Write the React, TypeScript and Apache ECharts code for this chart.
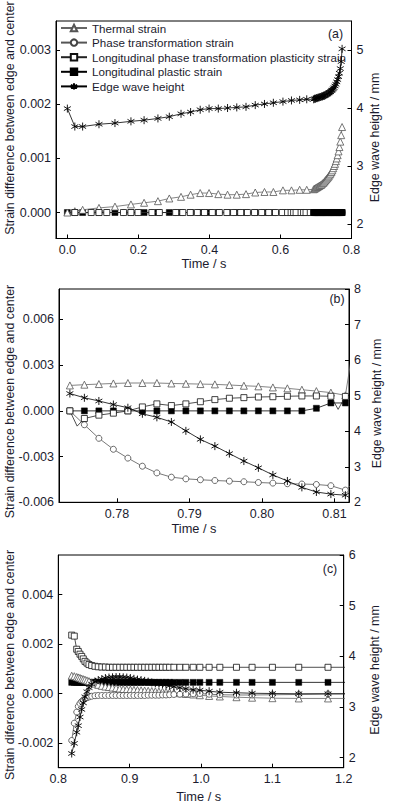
import React, { useEffect, useRef } from 'react';
import * as echarts from 'echarts';

// ---------------- Panel (a) ----------------
const timeA = [0, 0.021, 0.043, 0.089, 0.134, 0.179, 0.216, 0.255, 0.287, 0.32, 0.347, 0.374, 0.399, 0.425, 0.451, 0.477, 0.503, 0.529, 0.555, 0.58, 0.607, 0.631, 0.654, 0.674];
const thermalA = [0, 0.000025, 0.00005, 0.000086, 0.00011, 0.00015, 0.00018, 0.00021, 0.00026, 0.00029, 0.00033, 0.00036, 0.00036, 0.00034, 0.00033, 0.00033, 0.00034, 0.00037, 0.00038, 0.00038, 0.00041, 0.00041, 0.00042, 0.00042];
const waveA = [3.99, 3.68, 3.68, 3.72, 3.74, 3.77, 3.79, 3.82, 3.85, 3.9, 3.93, 3.97, 3.99, 3.99, 4.0, 4.01, 4.02, 4.05, 4.07, 4.09, 4.11, 4.13, 4.14, 4.15];
const plasticA = [0, 0, 0, 0, 0, 0, 0, 0, 0, 0, 0, 0, 0, 0, 0, 0, 0, 0, 0, 0, 0, 0, 0, 0];

const timeADense = [0.6935, 0.696, 0.6985, 0.701, 0.7035, 0.706, 0.7085, 0.711, 0.7135, 0.716, 0.7185, 0.721, 0.7235, 0.726, 0.7285, 0.731, 0.7335, 0.736, 0.7385, 0.741, 0.7435, 0.746, 0.7485, 0.751, 0.7535, 0.756, 0.7585, 0.761, 0.7635, 0.766, 0.7685, 0.771, 0.7735];
const thermalADense = [0.00043, 0.00044, 0.00045, 0.00046, 0.00047, 0.00048, 0.00049, 0.0005, 0.00051, 0.00052, 0.00054, 0.00055, 0.00057, 0.00059, 0.00061, 0.00063, 0.00065, 0.00067, 0.0007, 0.00072, 0.00075, 0.00078, 0.00082, 0.00086, 0.0009, 0.00095, 0.001, 0.00106, 0.00113, 0.00121, 0.00131, 0.00143, 0.00158];
const waveADense = [4.15, 4.16, 4.16, 4.17, 4.17, 4.18, 4.18, 4.19, 4.19, 4.2, 4.2, 4.21, 4.21, 4.22, 4.23, 4.24, 4.25, 4.26, 4.27, 4.28, 4.3, 4.31, 4.33, 4.35, 4.38, 4.41, 4.45, 4.49, 4.54, 4.6, 4.68, 4.8, 5.02];

const timeAZero = [0.021, 0.067, 0.089, 0.111, 0.158, 0.179, 0.199, 0.238, 0.259, 0.305, 0.325, 0.346, 0.366, 0.386, 0.408, 0.428, 0.449, 0.468, 0.488, 0.507, 0.527, 0.547, 0.567, 0.586, 0.605, 0.62, 0.63, 0.637, 0.644, 0.658, 0.665, 0.672, 0.684];
const zeroA = [0, 0, 0, 0, 0, 0, 0, 0, 0, 0, 0, 0, 0, 0, 0, 0, 0, 0, 0, 0, 0, 0, 0, 0, 0, 0, 0, 0, 0, 0, 0, 0, 0];

// ---------------- Panel (b) ----------------
const timeB = [0.7735, 0.7755, 0.7775, 0.7795, 0.7815, 0.7835, 0.7855, 0.7875, 0.7895, 0.7915, 0.7935, 0.7955, 0.7975, 0.7995, 0.8015, 0.8035, 0.8055, 0.8075, 0.8095, 0.8115];
const thermalB = [0.00167, 0.00172, 0.00176, 0.0018, 0.00183, 0.00183, 0.00183, 0.0018, 0.00178, 0.00176, 0.00174, 0.0017, 0.00165, 0.00161, 0.00154, 0.00148, 0.00139, 0.0013, 0.0012, 0.00102];
const phaseB = [0, -0.00091, -0.0018, -0.00252, -0.0031, -0.00363, -0.00407, -0.00435, -0.00446, -0.00452, -0.00457, -0.00461, -0.00465, -0.0047, -0.00474, -0.00478, -0.0048, -0.00483, -0.00491, -0.0052];
const lptpB = [0, -0.0005, -0.00028, -0.00015, 0, 0.00026, 0.00046, 0.00035, 0.00046, 0.0006, 0.00074, 0.00083, 0.00087, 0.00091, 0.00093, 0.00096, 0.00098, 0.00098, 0.00096, 0.00095];
const plasticB = [0, 0, 0, 0, 0, 0, 0, 0, 0, 0, 0, 0, 0, 0, 0, 0, 0, 0.00017, 0.00052, 0.00052];
const waveB = [5.06, 4.94, 4.85, 4.75, 4.66, 4.49, 4.39, 4.26, 4.01, 3.77, 3.58, 3.37, 3.16, 2.97, 2.77, 2.6, 2.42, 2.29, 2.23, 2.2];
// unmarked intermediate points of the curves
const thermalBTailT = [0.8125];
const thermalBTailV = [0.004];
const phaseBTailT = [0.8125];
const phaseBTailV = [-0.0048];
const lptpBHiddenT = [0.7745, 0.8105];
const lptpBHiddenV = [-0.001, 0.0001];

// ---------------- Panel (c) ----------------
const timeC = [0.8188, 0.8224, 0.8258, 0.828, 0.8304, 0.8328, 0.835, 0.8374, 0.8402, 0.843, 0.8468, 0.8514, 0.856, 0.861, 0.866, 0.871, 0.876, 0.881, 0.886, 0.891, 0.896, 0.901, 0.906, 0.911, 0.916, 0.921, 0.926, 0.931, 0.936, 0.941, 0.946, 0.951, 0.956, 0.962, 0.9704, 0.9788, 0.989, 0.9984, 1.0114, 1.0264, 1.0497, 1.0716, 1.1001, 1.137, 1.178, 1.23];
const thermalC = [0.00072, 0.0007, 0.00067, 0.00065, 0.00063, 0.0006, 0.00058, 0.00056, 0.00053, 0.0005, 0.00045, 0.0004, 0.00035, 0.00031, 0.00028, 0.00026, 0.00024, 0.00022, 0.0002, 0.00018, 0.00017, 0.00016, 0.00015, 0.00014, 0.00013, 0.00012, 0.00011, 0.0001, 0.00009, 0.00008, 0.00007, 0.00006, 0.00005, 0.00003, 0.00001, -0.00002, -0.00004, -0.00007, -0.0001, -0.00012, -0.00015, -0.00017, -0.00019, -0.0002, -0.0002, -0.0002];
const phaseC = [-0.0019, -0.0012, -0.00075, -0.00052, -0.0004, -0.00032, -0.00026, -0.00021, -0.00017, -0.00014, -0.00011, -0.00009, -0.00008, -0.00008, -0.00008, -0.00008, -0.00008, -0.00008, -0.00008, -0.00008, -0.00008, -0.00008, -0.00008, -0.00008, -0.00008, -0.00008, -0.00007, -0.00007, -0.00007, -0.00007, -0.00006, -0.00006, -0.00005, -0.00004, -0.00003, -0.00002, -0.00001, 0, -0.00003, -0.00005, -0.00006, -0.00006, -0.00005, -0.00004, -0.00002, -0.00001];
const lptpC = [0.00236, 0.00232, 0.00179, 0.0017, 0.00159, 0.0015, 0.0014, 0.0013, 0.00123, 0.00117, 0.00113, 0.0011, 0.00108, 0.00107, 0.00107, 0.00106, 0.00106, 0.00106, 0.00106, 0.00106, 0.00106, 0.00106, 0.00106, 0.00106, 0.00106, 0.00106, 0.00106, 0.00106, 0.00106, 0.00106, 0.00106, 0.00106, 0.00106, 0.00106, 0.00106, 0.00106, 0.00106, 0.00106, 0.00106, 0.00106, 0.00106, 0.00106, 0.00106, 0.00106, 0.00106, 0.00106];
const plasticC = [0.00045, 0.00045, 0.00045, 0.00045, 0.00045, 0.00045, 0.00045, 0.00045, 0.00045, 0.00045, 0.00045, 0.00045, 0.00045, 0.00045, 0.00045, 0.00045, 0.00045, 0.00045, 0.00045, 0.00045, 0.00045, 0.00045, 0.00045, 0.00045, 0.00045, 0.00045, 0.00045, 0.00045, 0.00045, 0.00045, 0.00045, 0.00045, 0.00045, 0.00045, 0.00045, 0.00045, 0.00045, 0.00045, 0.00045, 0.00045, 0.00045, 0.00045, 0.00045, 0.00045, 0.00045, 0.00045];
const waveC = [2.08, 2.28, 2.5, 2.63, 2.8, 2.95, 3.08, 3.2, 3.3, 3.38, 3.45, 3.5, 3.53, 3.55, 3.57, 3.58, 3.585, 3.59, 3.59, 3.585, 3.58, 3.57, 3.555, 3.54, 3.53, 3.515, 3.5, 3.485, 3.47, 3.46, 3.45, 3.44, 3.42, 3.4, 3.38, 3.36, 3.34, 3.33, 3.31, 3.29, 3.28, 3.27, 3.265, 3.26, 3.26, 3.26];

// ---------------- Tick labels ----------------
const ticksXA = [0, 0.2, 0.4, 0.6, 0.8];
const ticksLA = [0, 0.001, 0.002, 0.003];
const ticksRA = [2, 3, 4, 5];
const ticksXB = [0.78, 0.79, 0.8, 0.81];
const ticksLB = [-0.006, -0.003, 0, 0.003, 0.006];
const ticksRB = [2, 3, 4, 5, 6, 7, 8];
const ticksXC = [0.8, 0.9, 1.0, 1.1, 1.2];
const ticksLC = [-0.002, 0, 0.002, 0.004];
const ticksRC = [2, 3, 4, 5, 6];

const NAMES = [
  'Thermal strain',
  'Phase transformation strain',
  'Longitudinal phase transformation plasticity strain',
  'Longitudinal plastic strain',
  'Edge wave height',
];

const FONT = '"Liberation Sans", Arial, Helvetica, sans-serif';
const TXT = '#1b1b2e';
const STAR = 'path://M5,0L5,10M0.67,2.5L9.33,7.5M0.67,7.5L9.33,2.5';

function pts(t: number[], v: number[]) {
  return t.map((x, i) => [x, v[i]]);
}
function merge(main: number[][], hidden: number[][]) {
  const a: any[] = main.map((p) => ({ value: p }));
  const b: any[] = hidden.map((p) => ({ value: p, symbol: 'none' }));
  return a.concat(b).sort((p, q) => p.value[0] - q.value[0]);
}

function seriesStyle(k: number) {
  switch (k) {
    case 0:
      return { symbol: 'triangle', symbolSize: 7, itemStyle: { color: '#fff', borderColor: '#555', borderWidth: 0.8 }, lineStyle: { color: '#666', width: 0.8 }, z: 3 };
    case 1:
      return { symbol: 'circle', symbolSize: 6, itemStyle: { color: '#fff', borderColor: '#444', borderWidth: 0.8 }, lineStyle: { color: '#555', width: 0.8 }, z: 3 };
    case 2:
      return { symbol: 'rect', symbolSize: 6, itemStyle: { color: '#fff', borderColor: '#111', borderWidth: 0.8 }, lineStyle: { color: '#222', width: 0.8 }, z: 3 };
    case 3:
      return { symbol: 'rect', symbolSize: 6, itemStyle: { color: '#000', borderColor: '#000', borderWidth: 0.5 }, lineStyle: { color: '#000', width: 0.8 }, z: 2 };
    default:
      return { symbol: STAR, symbolSize: 8, symbolKeepAspect: true, itemStyle: { color: '#000', borderColor: '#000', borderWidth: 0.9 }, lineStyle: { color: '#000', width: 0.8 }, z: 4 };
  }
}

function mkSeries(k: number, gi: number, data: any[], z?: number) {
  const s: any = {
    type: 'line',
    name: NAMES[k],
    xAxisIndex: gi,
    yAxisIndex: k === 4 ? gi * 2 + 1 : gi * 2,
    data,
    clip: true,
    silent: true,
    showSymbol: true,
    ...seriesStyle(k),
  };
  if (z !== undefined) s.z = z;
  return s;
}

function xAx(gi: number, min: number, max: number, ticks: number[], dec: number) {
  return {
    type: 'value',
    gridIndex: gi,
    min,
    max,
    axisLine: { show: true, onZero: false, lineStyle: { color: '#000', width: 1 } },
    axisTick: { show: true, inside: true, length: 4, lineStyle: { color: '#000' }, customValues: ticks },
    axisLabel: { customValues: ticks, formatter: (v: number) => v.toFixed(dec), fontSize: 12.5, color: TXT, fontFamily: FONT, margin: 5 },
    splitLine: { show: false },
  };
}
function yAx(gi: number, pos: string, min: number, max: number, ticks: number[], dec: number) {
  return {
    type: 'value',
    gridIndex: gi,
    position: pos,
    min,
    max,
    axisLine: { show: true, onZero: false, lineStyle: { color: '#000', width: 1 } },
    axisTick: { show: true, inside: true, length: 4, lineStyle: { color: '#000' }, customValues: ticks },
    axisLabel: { customValues: ticks, formatter: (v: number) => v.toFixed(dec), fontSize: 12.5, color: TXT, fontFamily: FONT, margin: 5 },
    splitLine: { show: false },
  };
}

function txt(text: string, x: number, y: number, rot: number, size = 12.4) {
  return {
    type: 'text',
    x,
    y,
    rotation: rot,
    silent: true,
    style: {
      text,
      fill: TXT,
      fontSize: size,
      fontFamily: FONT,
      align: 'center',
      verticalAlign: 'middle',
      textAlign: 'center',
      textVerticalAlign: 'middle',
    },
  };
}

export default function App() {
  const ref = useRef<HTMLDivElement>(null);
  useEffect(() => {
    if (!ref.current) return;
    const chart = echarts.init(ref.current, null, { renderer: 'svg' });
    const series: any[] = [
      // (a)
      mkSeries(0, 0, pts(timeA, thermalA).concat(pts(timeADense, thermalADense))),
      mkSeries(1, 0, pts(timeAZero, zeroA).concat(pts(timeADense, zeroA))),
      mkSeries(2, 0, pts(timeAZero, zeroA).concat(pts(timeADense, zeroA))),
      mkSeries(3, 0, pts(timeA, plasticA)),
      mkSeries(4, 0, pts(timeA, waveA).concat(pts(timeADense, waveADense))),
      mkSeries(3, 0, pts(timeADense, zeroA), 3.5),
      // (b)
      mkSeries(0, 1, merge(pts(timeB, thermalB), pts(thermalBTailT, thermalBTailV))),
      mkSeries(1, 1, merge(pts(timeB, phaseB), pts(phaseBTailT, phaseBTailV))),
      mkSeries(2, 1, merge(pts(timeB, lptpB), pts(lptpBHiddenT, lptpBHiddenV))),
      mkSeries(3, 1, pts(timeB, plasticB)),
      mkSeries(4, 1, pts(timeB, waveB)),
      // (c)
      mkSeries(0, 2, pts(timeC, thermalC)),
      mkSeries(1, 2, pts(timeC, phaseC)),
      mkSeries(2, 2, pts(timeC, lptpC)),
      mkSeries(3, 2, pts(timeC, plasticC)),
      mkSeries(4, 2, pts(timeC, waveC)),
    ];
    const gridStyle = { show: true, borderColor: '#000', borderWidth: 1, backgroundColor: 'transparent' };
    chart.setOption({
      animation: false,
      backgroundColor: '#fff',
      textStyle: { fontFamily: FONT },
      grid: [
        { left: 56, top: 21, width: 295.5, height: 217.5, ...gridStyle },
        { left: 59, top: 289, width: 290, height: 213.3, ...gridStyle },
        { left: 58.3, top: 555, width: 285.4, height: 212.7, ...gridStyle },
      ],
      xAxis: [
        xAx(0, -0.032, 0.8, ticksXA, 1),
        xAx(1, 0.772, 0.812, ticksXB, 2),
        xAx(2, 0.8, 1.2, ticksXC, 1),
      ],
      yAxis: [
        yAx(0, 'left', -0.00048, 0.00354, ticksLA, 3),
        yAx(0, 'right', 1.75, 5.5, ticksRA, 0),
        yAx(1, 'left', -0.006, 0.008, ticksLB, 3),
        yAx(1, 'right', 2, 8, ticksRB, 0),
        yAx(2, 'left', -0.003, 0.0056, ticksLC, 3),
        yAx(2, 'right', 1.8, 6, ticksRC, 0),
      ],
      legend: {
        data: NAMES,
        orient: 'vertical',
        left: 60,
        top: 22,
        padding: 0,
        itemWidth: 26,
        itemHeight: 8,
        itemGap: 2.6,
        selectedMode: false,
        textStyle: { fontSize: 11.6, color: TXT, fontFamily: FONT, lineHeight: 12 },
      },
      graphic: [
        txt('Strain difference between edge and center', 9.5, 118, Math.PI / 2),
        txt('Strain difference between edge and center', 9.5, 401.5, Math.PI / 2),
        txt('Strain diference between edge and center', 9.5, 665, Math.PI / 2),
        txt('Edge wave height / mm', 374.7, 137.5, Math.PI / 2),
        txt('Edge wave height / mm', 377, 403.5, Math.PI / 2),
        txt('Edge wave height / mm', 375, 670, Math.PI / 2),
        txt('Time / s', 204, 263.3, 0, 12.8),
        txt('Time / s', 194, 528, 0, 12.8),
        txt('Time / s', 198.7, 796.7, 0, 12.8),
        txt('(a)', 335.5, 33.5, 0, 12.4),
        txt('(b)', 337, 298.5, 0, 12.4),
        txt('(c)', 330, 568.5, 0, 12.4),
      ],
      series,
    });
    return () => chart.dispose();
  }, []);
  return (
    <div
      ref={ref}
      style={{ position: 'fixed', left: 0, top: 0, width: 394, height: 807, background: '#fff' }}
    />
  );
}
